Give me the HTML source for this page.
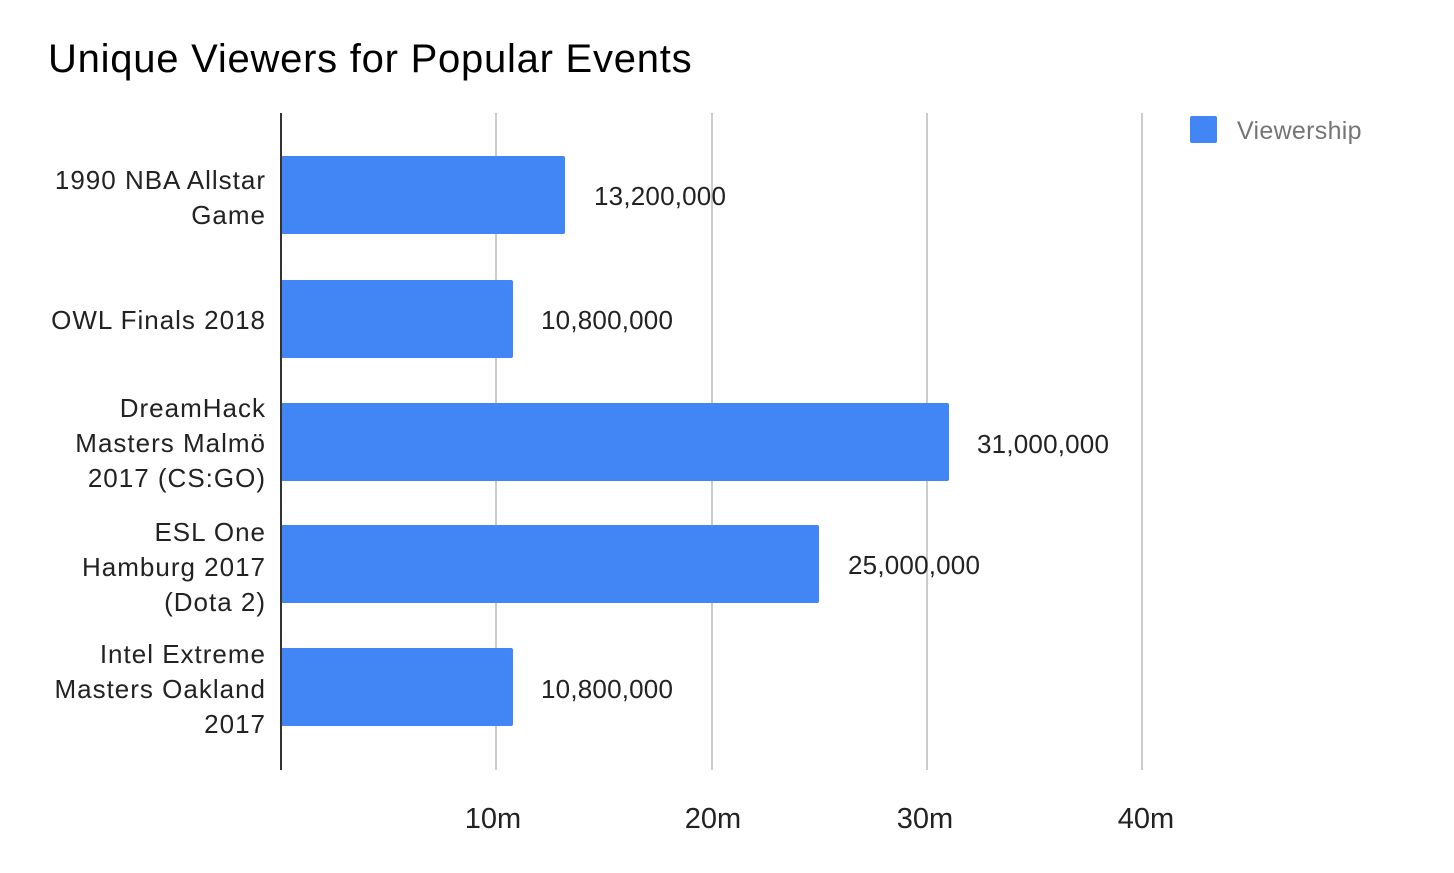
<!DOCTYPE html>
<html><head><meta charset="utf-8"><style>
body{margin:0;background:#fff}
svg{display:block;font-family:"Liberation Sans",Arial,sans-serif}
</style></head><body>
<svg width="1454" height="873" viewBox="0 0 1454 873">
<rect width="1454" height="873" fill="#fff"/>
<text x="48" y="72" font-size="40" letter-spacing="0.75" fill="#000">Unique Viewers for Popular Events</text>
<g stroke="#ccc" stroke-width="2">
<line x1="496" y1="113" x2="496" y2="770"/>
<line x1="712" y1="113" x2="712" y2="770"/>
<line x1="927" y1="113" x2="927" y2="770"/>
<line x1="1142" y1="113" x2="1142" y2="770"/>
</g>
<g fill="#4285f4">
<rect x="281" y="156" width="284" height="78" rx="2"/>
<rect x="281" y="280" width="232" height="78" rx="2"/>
<rect x="281" y="403" width="668" height="78" rx="2"/>
<rect x="281" y="525" width="538" height="78" rx="2"/>
<rect x="281" y="648" width="232" height="78" rx="2"/>
</g>
<line x1="281" y1="113" x2="281" y2="770" stroke="#333" stroke-width="2"/>
<g font-size="26" letter-spacing="0.2" fill="#222">
<text x="594" y="205">13,200,000</text>
<text x="541" y="329">10,800,000</text>
<text x="977" y="453">31,000,000</text>
<text x="848" y="574">25,000,000</text>
<text x="541" y="698">10,800,000</text>
</g>
<g font-size="26" letter-spacing="1" fill="#222" text-anchor="end">
<text x="266" y="189">1990 NBA Allstar</text>
<text x="266" y="224">Game</text>
<text x="266" y="329">OWL Finals 2018</text>
<text x="266" y="417">DreamHack</text>
<text x="266" y="452">Masters Malmö</text>
<text x="266" y="487">2017 (CS:GO)</text>
<text x="266" y="541">ESL One</text>
<text x="266" y="576">Hamburg 2017</text>
<text x="266" y="611">(Dota 2)</text>
<text x="266" y="663">Intel Extreme</text>
<text x="266" y="698">Masters Oakland</text>
<text x="266" y="733">2017</text>
</g>
<g font-size="29" fill="#222" text-anchor="middle">
<text x="493" y="828">10m</text>
<text x="713" y="828">20m</text>
<text x="925" y="828">30m</text>
<text x="1146" y="828">40m</text>
</g>
<rect x="1190" y="116" width="27" height="27" rx="2" fill="#4285f4"/>
<text x="1237" y="139" font-size="25" letter-spacing="0.3" fill="#757575">Viewership</text>
</svg>
</body></html>
